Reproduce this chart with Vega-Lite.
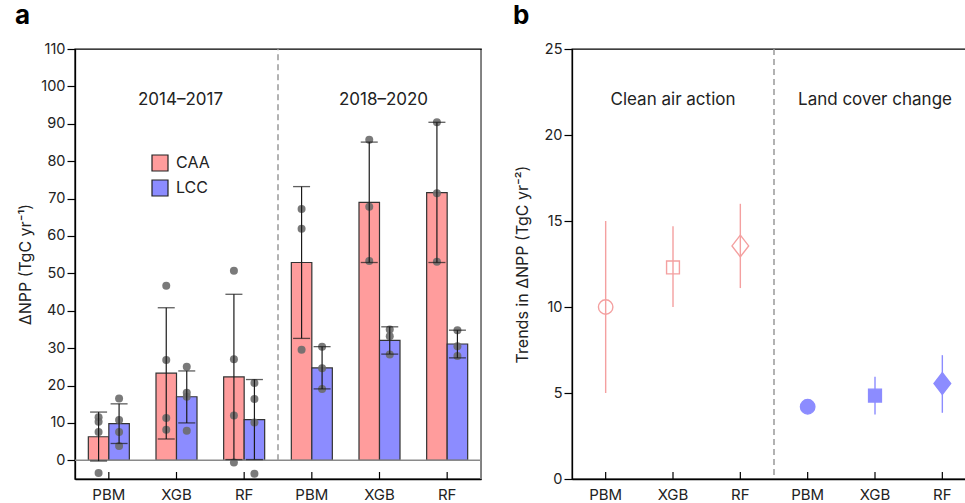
{
  "$schema": "https://vega.github.io/schema/vega-lite/v6.json",
  "background": "white",
  "autosize": {"type": "pad"},
  "padding": {"left": 14, "top": 2, "right": -10, "bottom": 0},
  "config": {
    "font": "Inter",
    "axis": {"grid": false, "domainColor": "black", "domainWidth": 1.3, "tickColor": "black", "tickWidth": 1.2, "labelColor": "#222", "titleColor": "#222", "titleFontWeight": "normal", "labelOverlap": false},
    "axisY": {"labelOverlap": false},
    "axisQuantitative": {"labelOverlap": false},
    "text": {"font": "Inter"},
    "title": {"font": "Inter"}
  },
  "datasets": {
    "bars": [
      {"cat": "PBM|1", "group": "CAA", "value": 6.3, "lo": -0.2, "hi": 12.9},
      {"cat": "XGB|1", "group": "CAA", "value": 23.3, "lo": 5.7, "hi": 40.8},
      {"cat": "RF|1", "group": "CAA", "value": 22.3, "lo": 0.2, "hi": 44.4},
      {"cat": "PBM|2", "group": "CAA", "value": 52.9, "lo": 32.6, "hi": 73.2},
      {"cat": "XGB|2", "group": "CAA", "value": 69.0, "lo": 52.9, "hi": 85.1},
      {"cat": "RF|2", "group": "CAA", "value": 71.6, "lo": 52.9, "hi": 90.4},
      {"cat": "PBM|1", "group": "LCC", "value": 9.8, "lo": 4.5, "hi": 15.1},
      {"cat": "XGB|1", "group": "LCC", "value": 17.0, "lo": 10.0, "hi": 23.9},
      {"cat": "RF|1", "group": "LCC", "value": 10.9, "lo": 0.2, "hi": 21.6},
      {"cat": "PBM|2", "group": "LCC", "value": 24.7, "lo": 19.1, "hi": 30.4},
      {"cat": "XGB|2", "group": "LCC", "value": 32.1, "lo": 28.4, "hi": 35.7},
      {"cat": "RF|2", "group": "LCC", "value": 31.1, "lo": 27.4, "hi": 34.8}
    ],
    "pts": [
      {"cat": "PBM|1", "group": "CAA", "v": 11.5},
      {"cat": "PBM|1", "group": "CAA", "v": 10.3},
      {"cat": "PBM|1", "group": "CAA", "v": 7.6},
      {"cat": "PBM|1", "group": "CAA", "v": -3.4},
      {"cat": "PBM|1", "group": "LCC", "v": 16.5},
      {"cat": "PBM|1", "group": "LCC", "v": 10.8},
      {"cat": "PBM|1", "group": "LCC", "v": 7.6},
      {"cat": "PBM|1", "group": "LCC", "v": 3.8},
      {"cat": "XGB|1", "group": "CAA", "v": 46.7},
      {"cat": "XGB|1", "group": "CAA", "v": 26.8},
      {"cat": "XGB|1", "group": "CAA", "v": 11.3},
      {"cat": "XGB|1", "group": "CAA", "v": 8.2},
      {"cat": "XGB|1", "group": "LCC", "v": 25.0},
      {"cat": "XGB|1", "group": "LCC", "v": 18.1},
      {"cat": "XGB|1", "group": "LCC", "v": 17.0},
      {"cat": "XGB|1", "group": "LCC", "v": 7.9},
      {"cat": "RF|1", "group": "CAA", "v": 50.7},
      {"cat": "RF|1", "group": "CAA", "v": 27.0},
      {"cat": "RF|1", "group": "CAA", "v": 12.0},
      {"cat": "RF|1", "group": "CAA", "v": -0.6},
      {"cat": "RF|1", "group": "LCC", "v": 20.7},
      {"cat": "RF|1", "group": "LCC", "v": 16.4},
      {"cat": "RF|1", "group": "LCC", "v": 10.1},
      {"cat": "RF|1", "group": "LCC", "v": -3.6},
      {"cat": "PBM|2", "group": "CAA", "v": 67.2},
      {"cat": "PBM|2", "group": "CAA", "v": 61.9},
      {"cat": "PBM|2", "group": "CAA", "v": 29.6},
      {"cat": "PBM|2", "group": "LCC", "v": 30.4},
      {"cat": "PBM|2", "group": "LCC", "v": 24.6},
      {"cat": "PBM|2", "group": "LCC", "v": 19.1},
      {"cat": "XGB|2", "group": "CAA", "v": 85.7},
      {"cat": "XGB|2", "group": "CAA", "v": 67.8},
      {"cat": "XGB|2", "group": "CAA", "v": 53.3},
      {"cat": "XGB|2", "group": "LCC", "v": 35.0},
      {"cat": "XGB|2", "group": "LCC", "v": 33.2},
      {"cat": "XGB|2", "group": "LCC", "v": 28.3},
      {"cat": "RF|2", "group": "CAA", "v": 90.4},
      {"cat": "RF|2", "group": "CAA", "v": 71.4},
      {"cat": "RF|2", "group": "CAA", "v": 53.1},
      {"cat": "RF|2", "group": "LCC", "v": 34.8},
      {"cat": "RF|2", "group": "LCC", "v": 30.5},
      {"cat": "RF|2", "group": "LCC", "v": 27.9}
    ],
    "trends": [
      {"cat": "PBM|1", "group": "CAA", "model": "PBM", "trend": 10.0, "lo": 5.0, "hi": 15.0},
      {"cat": "XGB|1", "group": "CAA", "model": "XGB", "trend": 12.3, "lo": 10.0, "hi": 14.7},
      {"cat": "RF|1", "group": "CAA", "model": "RF", "trend": 13.55, "lo": 11.1, "hi": 16.0},
      {"cat": "PBM|2", "group": "LCC", "model": "PBM", "trend": 4.2, "lo": 3.95, "hi": 4.45},
      {"cat": "XGB|2", "group": "LCC", "model": "XGB", "trend": 4.85, "lo": 3.75, "hi": 5.95},
      {"cat": "RF|2", "group": "LCC", "model": "RF", "trend": 5.55, "lo": 3.85, "hi": 7.2}
    ],
    "labelsA": [
      {"cat": "XGB|1", "y": 96.4, "label": "2014–2017"},
      {"cat": "XGB|2", "y": 96.4, "label": "2018–2020"}
    ],
    "labelsB": [
      {"cat": "XGB|1", "y": 22.05, "label": "Clean air action"},
      {"cat": "XGB|2", "y": 22.05, "label": "Land cover change"}
    ],
    "one": [{}]
  },
  "spacing": 91,
  "bounds": "flush",
  "resolve": {"scale": {"color": "independent", "x": "independent", "y": "independent"}, "legend": {"color": "independent"}},
  "hconcat": [
    {
      "width": 406,
      "height": 430,
      "title": {"text": "a", "anchor": "start", "frame": "group", "fontSize": 26, "fontWeight": "bold", "color": "black", "dx": -60, "offset": 12},
      "view": {"stroke": "black", "strokeWidth": 1.4},
      "layer": [
        {
          "data": {"name": "bars"},
          "mark": {"type": "bar", "stroke": "#333333", "strokeWidth": 1.2},
          "encoding": {
            "x": {
              "field": "cat", "type": "nominal",
              "scale": {"domain": ["PBM|1", "XGB|1", "RF|1", "PBM|2", "XGB|2", "RF|2"], "paddingInner": 0, "paddingOuter": 0},
              "axis": {"title": null, "labelExpr": "split(datum.label, '|')[0]", "labelAngle": 0, "labelAlign": "center", "labelFontSize": 15, "ticks": false, "labelPadding": 8}
            },
            "xOffset": {"field": "group", "type": "nominal", "scale": {"domain": ["CAA", "LCC"], "paddingInner": 0, "paddingOuter": 0.65}},
            "y": {
              "field": "value", "type": "quantitative",
              "scale": {"domain": [-5, 110], "nice": false, "zero": false},
              "axis": {"values": [0, 10, 20, 30, 40, 50, 60, 70, 80, 90, 100, 110], "title": "ΔNPP (TgC yr⁻¹)", "titleFontSize": 16, "labelFontSize": 14.5, "tickSize": 8, "labelPadding": 2, "titlePadding": 7, "labelOverlap": false}
            },
            "color": {
              "field": "group", "type": "nominal",
              "scale": {"domain": ["CAA", "LCC"], "range": ["#FF9C9C", "#8C8CFF"]},
              "legend": {"orient": "none", "legendX": 76, "legendY": 105, "title": null, "symbolType": "square", "symbolSize": 256, "symbolStrokeColor": "#222222", "symbolStrokeWidth": 1.2, "symbolOpacity": 1, "labelFontSize": 16, "labelColor": "#222", "rowPadding": 3, "labelOffset": 7, "padding": 0}
            }
          }
        },
        {
          "data": {"name": "one"},
          "mark": {"type": "rule", "color": "#8a8a8a", "strokeWidth": 1.5},
          "encoding": {"y": {"datum": 0, "type": "quantitative", "axis": {"values": [0, 10, 20, 30, 40, 50, 60, 70, 80, 90, 100, 110], "title": "ΔNPP (TgC yr⁻¹)", "titleFontSize": 16, "labelFontSize": 14.5, "tickSize": 8, "labelPadding": 2, "titlePadding": 7, "labelOverlap": false}}}
        },
        {
          "data": {"name": "one"},
          "mark": {"type": "rule", "color": "#8a8a8a", "strokeWidth": 1.8},
          "encoding": {
            "x": {"datum": "RF|2", "type": "nominal", "bandPosition": 1},
            "y": {"datum": -5, "type": "quantitative", "axis": {"values": [0, 10, 20, 30, 40, 50, 60, 70, 80, 90, 100, 110], "title": "ΔNPP (TgC yr⁻¹)", "titleFontSize": 16, "labelFontSize": 14.5, "tickSize": 8, "labelPadding": 2, "titlePadding": 7, "labelOverlap": false}},
            "y2": {"datum": 109.7}
          }
        },
        {
          "data": {"name": "one"},
          "mark": {"type": "rule", "color": "#999999", "strokeWidth": 1.5, "strokeDash": [6, 4]},
          "encoding": {
            "x": {"datum": "RF|1", "type": "nominal", "bandPosition": 1},
            "y": {"datum": 0, "type": "quantitative", "axis": {"values": [0, 10, 20, 30, 40, 50, 60, 70, 80, 90, 100, 110], "title": "ΔNPP (TgC yr⁻¹)", "titleFontSize": 16, "labelFontSize": 14.5, "tickSize": 8, "labelPadding": 2, "titlePadding": 7, "labelOverlap": false}},
            "y2": {"datum": 110}
          }
        },
        {
          "data": {"name": "bars"},
          "transform": [{"filter": "datum.group === 'CAA'"}],
          "mark": {"type": "rule", "color": "black", "strokeWidth": 1.2},
          "encoding": {
            "x": {"field": "cat", "type": "nominal"},
            "y": {"datum": -5, "type": "quantitative", "axis": {"values": [0, 10, 20, 30, 40, 50, 60, 70, 80, 90, 100, 110], "title": "ΔNPP (TgC yr⁻¹)", "titleFontSize": 16, "labelFontSize": 14.5, "tickSize": 8, "labelPadding": 2, "titlePadding": 7, "labelOverlap": false}},
            "y2": {"datum": -3.13}
          }
        },
        {
          "data": {"name": "pts"},
          "mark": {"type": "circle", "color": "#6b6b6b", "opacity": 0.9, "size": 64},
          "encoding": {
            "x": {"field": "cat", "type": "nominal"},
            "xOffset": {"field": "group", "type": "nominal"},
            "y": {"field": "v", "type": "quantitative", "axis": {"values": [0, 10, 20, 30, 40, 50, 60, 70, 80, 90, 100, 110], "title": "ΔNPP (TgC yr⁻¹)", "titleFontSize": 16, "labelFontSize": 14.5, "tickSize": 8, "labelPadding": 2, "titlePadding": 7, "labelOverlap": false}}
          }
        },
        {
          "data": {"name": "bars"},
          "mark": {"type": "rule", "color": "#1a1a1a", "strokeWidth": 1.2},
          "encoding": {
            "x": {"field": "cat", "type": "nominal"},
            "xOffset": {"field": "group", "type": "nominal"},
            "y": {"field": "lo", "type": "quantitative", "axis": {"values": [0, 10, 20, 30, 40, 50, 60, 70, 80, 90, 100, 110], "title": "ΔNPP (TgC yr⁻¹)", "titleFontSize": 16, "labelFontSize": 14.5, "tickSize": 8, "labelPadding": 2, "titlePadding": 7, "labelOverlap": false}},
            "y2": {"field": "hi"}
          }
        },
        {
          "data": {"name": "bars"},
          "mark": {"type": "tick", "color": "#1a1a1a", "thickness": 1.3, "size": 17},
          "encoding": {
            "x": {"field": "cat", "type": "nominal"},
            "xOffset": {"field": "group", "type": "nominal"},
            "y": {"field": "lo", "type": "quantitative", "axis": {"values": [0, 10, 20, 30, 40, 50, 60, 70, 80, 90, 100, 110], "title": "ΔNPP (TgC yr⁻¹)", "titleFontSize": 16, "labelFontSize": 14.5, "tickSize": 8, "labelPadding": 2, "titlePadding": 7, "labelOverlap": false}}
          }
        },
        {
          "data": {"name": "bars"},
          "mark": {"type": "tick", "color": "#1a1a1a", "thickness": 1.3, "size": 17},
          "encoding": {
            "x": {"field": "cat", "type": "nominal"},
            "xOffset": {"field": "group", "type": "nominal"},
            "y": {"field": "hi", "type": "quantitative", "axis": {"values": [0, 10, 20, 30, 40, 50, 60, 70, 80, 90, 100, 110], "title": "ΔNPP (TgC yr⁻¹)", "titleFontSize": 16, "labelFontSize": 14.5, "tickSize": 8, "labelPadding": 2, "titlePadding": 7, "labelOverlap": false}}
          }
        },
        {
          "data": {"name": "labelsA"},
          "mark": {"type": "text", "fontSize": 17, "color": "#222", "dx": 4, "baseline": "middle"},
          "encoding": {
            "x": {"field": "cat", "type": "nominal"},
            "y": {"field": "y", "type": "quantitative", "axis": {"values": [0, 10, 20, 30, 40, 50, 60, 70, 80, 90, 100, 110], "title": "ΔNPP (TgC yr⁻¹)", "titleFontSize": 16, "labelFontSize": 14.5, "tickSize": 8, "labelPadding": 2, "titlePadding": 7, "labelOverlap": false}},
            "text": {"field": "label"}
          }
        }
      ]
    },
    {
      "width": 404,
      "height": 430,
      "title": {"text": "b", "anchor": "start", "frame": "group", "fontSize": 26, "fontWeight": "bold", "color": "black", "dx": -59, "offset": 12},
      "view": {"stroke": "black", "strokeWidth": 1.3},
      "layer": [
        {
          "data": {"name": "trends"},
          "mark": {"type": "rule", "strokeWidth": 1.4},
          "encoding": {
            "x": {
              "field": "cat", "type": "nominal",
              "scale": {"domain": ["PBM|1", "XGB|1", "RF|1", "PBM|2", "XGB|2", "RF|2"], "paddingInner": 0, "paddingOuter": 0},
              "axis": {"title": null, "labelExpr": "split(datum.label, '|')[0]", "labelAngle": 0, "labelAlign": "center", "labelFontSize": 15, "ticks": false, "labelPadding": 8}
            },
            "y": {
              "field": "lo", "type": "quantitative",
              "scale": {"domain": [0, 25], "nice": false},
              "axis": {"values": [0, 5, 10, 15, 20, 25], "title": "Trends in ΔNPP (TgC yr⁻²)", "titleFontSize": 16, "labelFontSize": 14.5, "tickSize": 8, "labelPadding": 2, "titlePadding": 14}
            },
            "y2": {"field": "hi"},
            "color": {"field": "group", "type": "nominal", "scale": {"domain": ["CAA", "LCC"], "range": ["#F4A0A0", "#8C8CFF"]}, "legend": null}
          }
        },
        {
          "data": {"name": "one"},
          "mark": {"type": "rule", "color": "#999999", "strokeWidth": 1.5, "strokeDash": [6, 4]},
          "encoding": {
            "x": {"datum": "RF|1", "type": "nominal", "bandPosition": 1}
          }
        },
        {
          "data": {"name": "trends"},
          "mark": {"type": "rule", "color": "black", "strokeWidth": 1.2},
          "encoding": {
            "x": {"field": "cat", "type": "nominal"},
            "y": {"datum": 0, "type": "quantitative"},
            "y2": {"datum": 0.41}
          }
        },
        {
          "data": {"name": "trends"},
          "transform": [{"filter": "datum.model === 'PBM'"}],
          "mark": {"type": "point", "shape": "circle", "size": 209, "strokeWidth": 1.4, "opacity": 1, "filled": false},
          "encoding": {
            "x": {"field": "cat", "type": "nominal"},
            "y": {"field": "trend", "type": "quantitative"},
            "fill": {"field": "group", "type": "nominal", "scale": {"domain": ["CAA", "LCC"], "range": ["transparent", "#8C8CFF"]}, "legend": null},
            "stroke": {"field": "group", "type": "nominal", "scale": {"domain": ["CAA", "LCC"], "range": ["#F4A0A0", "#8C8CFF"]}, "legend": null}
          }
        },
        {
          "data": {"name": "trends"},
          "transform": [{"filter": "datum.model === 'XGB'"}],
          "mark": {"type": "point", "shape": "square", "size": 165, "strokeWidth": 1.4, "opacity": 1, "filled": false},
          "encoding": {
            "x": {"field": "cat", "type": "nominal"},
            "y": {"field": "trend", "type": "quantitative"},
            "fill": {"field": "group", "type": "nominal", "legend": null},
            "stroke": {"field": "group", "type": "nominal", "legend": null}
          }
        },
        {
          "data": {"name": "trends"},
          "transform": [{"filter": "datum.model === 'RF'"}],
          "mark": {"type": "point", "shape": "M0,-1L0.77,0L0,1L-0.77,0Z", "size": 470, "strokeWidth": 1.4, "opacity": 1, "filled": false},
          "encoding": {
            "x": {"field": "cat", "type": "nominal"},
            "y": {"field": "trend", "type": "quantitative"},
            "fill": {"field": "group", "type": "nominal", "legend": null},
            "stroke": {"field": "group", "type": "nominal", "legend": null}
          }
        },
        {
          "data": {"name": "labelsB"},
          "mark": {"type": "text", "fontSize": 17, "color": "#222", "baseline": "middle"},
          "encoding": {
            "x": {"field": "cat", "type": "nominal"},
            "y": {"field": "y", "type": "quantitative"},
            "text": {"field": "label"}
          }
        }
      ]
    }
  ]
}
